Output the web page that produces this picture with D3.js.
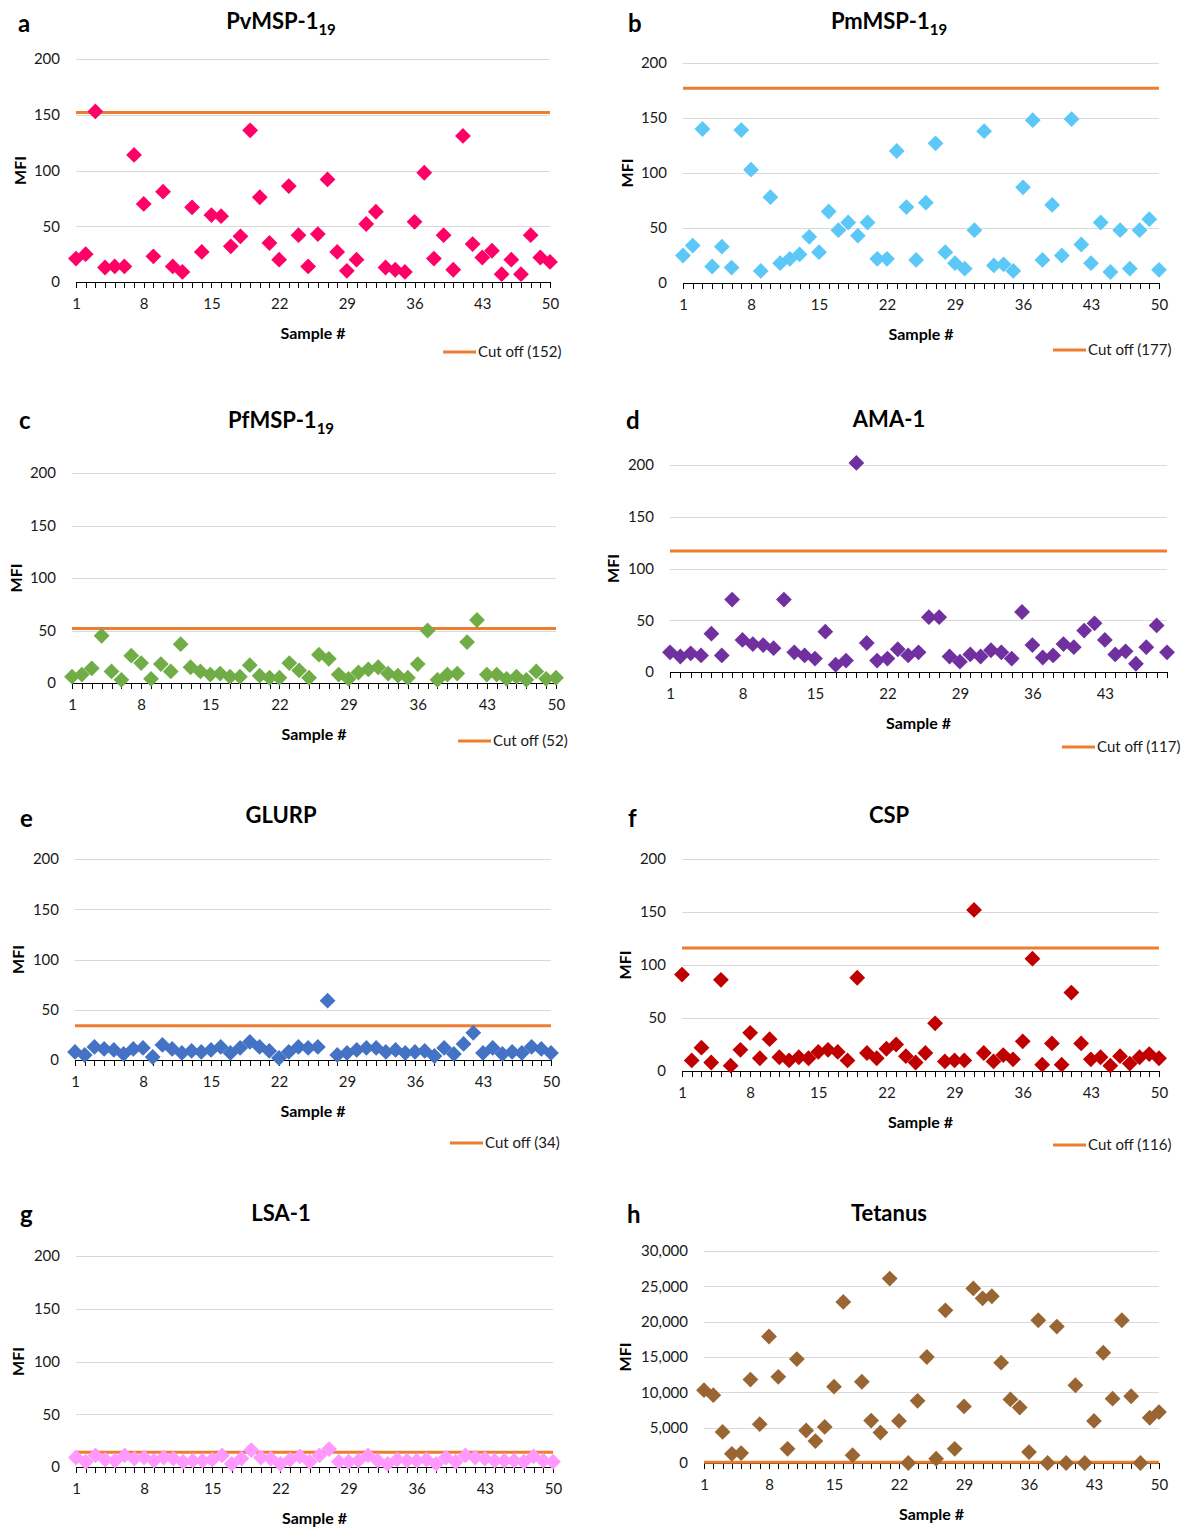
<!DOCTYPE html>
<html lang="en">
<head>
<meta charset="utf-8">
<title>Antibody MFI per sample</title>
<script src="https://cdn.jsdelivr.net/npm/d3@7/dist/d3.min.js"></script>
<style>
  body { margin: 0; background: white; font-family: Lato, "Open Sans", sans-serif; }
  svg { display: block; background: white; }
  .grid { stroke: #d9d9d9; stroke-width: 1; }
  .x.axis path, .x.axis line { stroke: #000; stroke-width: 1; shape-rendering: crispEdges; }
  .x.axis text, .ylab { font-size: 15px; fill: #1a1a1a; font-family: Lato, sans-serif; }
  .title { font-size: 22px; font-weight: bold; fill: #000; }
  .letter { font-size: 24px; font-weight: bold; fill: #000; }
  .axlabel { font-size: 16px; font-weight: bold; fill: #000; }
  .legend { font-size: 15px; fill: #1a1a1a; }
  .cutoff { stroke: #ed7d31; stroke-width: 3; }
</style>
</head>
<body>
<script>
// values, one per sample
var pvValues = [21, 25, 153, 13, 14, 14, 114, 70, 23, 81, 14, 9, 67, 27, 60, 59, 32, 41, 136, 76,
  35, 20, 86, 42, 14, 43, 92, 27, 10, 20, 52, 63, 13, 11, 9, 54, 98, 21, 42, 11,
  131, 34, 22, 28, 7, 20, 7, 42, 22, 18];
var pmValues = [25, 34, 140, 15, 33, 14, 139, 103, 11, 78, 18, 22, 26, 42, 28, 65, 48, 55, 43, 55,
  22, 22, 120, 69, 21, 73, 127, 28, 18, 13, 48, 138, 16, 17, 11, 87, 148, 21, 71, 25,
  149, 35, 18, 55, 10, 48, 13, 48, 58, 12];
var pfValues = [6, 8, 14, 45, 11, 3, 26, 19, 4, 18, 11, 37, 15, 11, 8, 9, 6, 6, 17, 7,
  5, 5, 19, 12, 5, 27, 23, 8, 4, 10, 13, 15, 9, 7, 5, 18, 50, 3, 8, 9,
  39, 60, 8, 8, 4, 6, 3, 11, 4, 5];
var amaValues = [19, 15, 18, 16, 37, 16, 70, 31, 27, 26, 23, 70, 19, 16, 13, 39, 7, 11, 202, 28,
  11, 13, 22, 16, 19, 53, 53, 15, 10, 17, 15, 21, 19, 13, 58, 26, 14, 16, 27, 24,
  40, 47, 31, 17, 20, 8, 24, 45, 19];
var glurpValues = [8, 5, 13, 11, 10, 6, 11, 12, 3, 15, 11, 7, 9, 8, 10, 13, 7, 12, 18, 13,
  9, 2, 8, 13, 12, 13, 59, 5, 7, 10, 12, 12, 8, 10, 7, 8, 9, 4, 12, 6,
  16, 27, 7, 12, 6, 8, 7, 13, 11, 7];
var cspValues = [91, 10, 22, 8, 86, 5, 20, 36, 12, 30, 13, 10, 13, 12, 18, 20, 18, 10, 88, 17,
  12, 21, 25, 14, 8, 17, 45, 9, 10, 10, 152, 17, 9, 15, 11, 28, 106, 6, 26, 6,
  74, 26, 11, 13, 5, 14, 7, 13, 16, 12];
var lsaValues = [9, 5, 11, 7, 6, 11, 8, 9, 6, 9, 8, 5, 6, 6, 7, 11, 3, 8, 16, 9,
  8, 3, 7, 10, 5, 11, 17, 5, 5, 6, 11, 6, 3, 7, 6, 6, 7, 3, 9, 5,
  11, 9, 8, 6, 6, 6, 5, 10, 6, 5];
var tetanusValues = [10300, 9600, 4400, 1300, 1400, 11800, 5500, 17900, 12200, 2000,
  14700, 4600, 3100, 5100, 10800, 22800, 1100, 11500, 6000, 4300,
  26100, 5950, 0, 8800, 15000, 600, 21600, 2000, 8000, 24700,
  23300, 23600, 14200, 9000, 7850, 1550, 20200, 0, 19300, 0,
  11000, 0, 5950, 15600, 9100, 20200, 9450, 0, 6400, 7200];

var cutoffs = [152, 177, 52, 117, 34, 116, 14, 100];
var letters = ["a", "b", "c", "d", "e", "f", "g", "h"];
var titles = ["PvMSP-1", "PmMSP-1", "PfMSP-1", "AMA-1", "GLURP", "CSP", "LSA-1", "Tetanus"];
var subscripts = ["19", "19", "19", "", "", "", "", ""];
var sampleTicks = [1, 8, 15, 22, 29, 36, 43, 50];
var mfiTicks = [0, 50, 100, 150, 200];
var tetanusTicks = [0, 5000, 10000, 15000, 20000, 25000, 30000];

var colors = ["#ff0066", "#5bc8f7", "#70ad47", "#7030a0", "#4472c4", "#c00000", "#ff99ff", "#996633"];

var seriesList = [pvValues, pmValues, pfValues, amaValues, glurpValues, cspValues, lsaValues, tetanusValues];

var frames = [
  { x0: 76,  x1: 550,  top: 59,   bot: 282,  titleX: 281, titleY: 29,   letterX: 18,  letterY: 32,   legX: 443,  legY: 352, mfiDx: -56 },
  { x0: 683, x1: 1159, top: 63,   bot: 283,  titleX: 889, titleY: 29,   letterX: 628, letterY: 32,   legX: 1053, legY: 350, mfiDx: -56 },
  { x0: 72,  x1: 556,  top: 473,  bot: 683,  titleX: 281, titleY: 428,  letterX: 19,  letterY: 429,  legX: 458,  legY: 741, mfiDx: -56 },
  { x0: 670, x1: 1167, top: 465,  bot: 672,  titleX: 889, titleY: 427,  letterX: 626, letterY: 429,  legX: 1062, legY: 747, mfiDx: -57 },
  { x0: 75,  x1: 551,  top: 859,  bot: 1060, titleX: 281, titleY: 823,  letterX: 20,  letterY: 827,  legX: 450,  legY: 1143, mfiDx: -57 },
  { x0: 682, x1: 1159, top: 859,  bot: 1071, titleX: 889, titleY: 823,  letterX: 628, letterY: 827,  legX: 1053, legY: 1145, mfiDx: -57 },
  { x0: 76,  x1: 553,  top: 1256, bot: 1467, titleX: 281, titleY: 1221, letterX: 20,  letterY: 1223, legX: null, legY: null, mfiDx: -58 },
  { x0: 704, x1: 1159, top: 1251, bot: 1463, titleX: 889, titleY: 1221, letterX: 627, letterY: 1223, legX: null, legY: null, mfiDx: -79 }
];

var svg = d3.select("body").append("svg")
  .attr("width", 1188)
  .attr("height", 1528);

var diamond = d3.symbol().type(d3.symbolSquare).size(125);

seriesList.forEach(function(values, i) {
  var f = frames[i];
  var n = values.length;
  var isTetanus = (i === 7);
  var yTicks = isTetanus ? tetanusTicks : mfiTicks;

  var x = d3.scaleLinear().domain([1, n]).range([f.x0, f.x1]);
  var y = d3.scaleLinear().domain([0, d3.max(yTicks)]).range([f.bot, f.top]);

  var g = svg.append("g");

  // gridlines + y labels (no y axis line in the original)
  g.selectAll(".grid")
    .data(yTicks.filter(function(t) { return t > 0; }))
    .enter().append("line")
    .attr("class", "grid")
    .attr("x1", f.x0).attr("x2", f.x1)
    .attr("y1", function(d) { return Math.round(y(d)) + 0.5; })
    .attr("y2", function(d) { return Math.round(y(d)) + 0.5; });

  g.selectAll(".ylab")
    .data(yTicks)
    .enter().append("text")
    .attr("class", "ylab")
    .attr("x", f.x0 - 16)
    .attr("y", function(d) { return y(d); })
    .attr("dy", "0.35em")
    .attr("text-anchor", "end")
    .text(isTetanus ? d3.format(",") : function(d) { return d; });

  // x axis: a tick at every sample, labels every 7th
  var xAxis = d3.axisBottom(x)
    .tickValues(d3.range(1, n + 1))
    .tickSize(6)
    .tickSizeOuter(0)
    .tickPadding(10)
    .tickFormat(function(d) { return sampleTicks.indexOf(d) >= 0 ? d : ""; });

  g.append("g")
    .attr("class", "x axis")
    .attr("transform", "translate(0," + f.bot + ")")
    .call(xAxis);

  // cut-off line
  g.append("line")
    .attr("class", "cutoff")
    .attr("x1", x(1)).attr("x2", x(n))
    .attr("y1", y(cutoffs[i])).attr("y2", y(cutoffs[i]));

  // diamonds
  g.selectAll("path.pt")
    .data(values)
    .enter().append("path")
    .attr("class", "pt")
    .attr("d", diamond)
    .attr("fill", colors[i])
    .attr("transform", function(d, j) {
      return "translate(" + x(j + 1) + "," + y(d) + ") rotate(45)";
    });

  // titles and labels
  var t = g.append("text")
    .attr("class", "title")
    .attr("x", f.titleX)
    .attr("y", f.titleY)
    .attr("text-anchor", "middle");
  t.append("tspan").text(titles[i]);
  if (subscripts[i]) {
    t.append("tspan").attr("dy", 6).style("font-size", "15px").text(subscripts[i]);
  }

  g.append("text")
    .attr("class", "letter")
    .attr("x", f.letterX)
    .attr("y", f.letterY)
    .text(letters[i]);

  g.append("text")
    .attr("class", "axlabel")
    .attr("text-anchor", "middle")
    .attr("x", (f.x0 + f.x1) / 2)
    .attr("y", f.bot + 51)
    .attr("dy", "0.35em")
    .text("Sample #");

  g.append("text")
    .attr("class", "axlabel")
    .attr("text-anchor", "middle")
    .attr("transform", "translate(" + (f.x0 + f.mfiDx) + "," + ((f.top + f.bot) / 2) + ") rotate(-90)")
    .attr("dy", "0.35em")
    .text("MFI");

  if (f.legX !== null) {
    g.append("line")
      .attr("class", "cutoff")
      .attr("x1", f.legX).attr("x2", f.legX + 33)
      .attr("y1", f.legY).attr("y2", f.legY);
    g.append("text")
      .attr("class", "legend")
      .attr("x", f.legX + 35)
      .attr("y", f.legY)
      .attr("dy", "0.35em")
      .text("Cut off (" + cutoffs[i] + ")");
  }
});
</script>
</body>
</html>
